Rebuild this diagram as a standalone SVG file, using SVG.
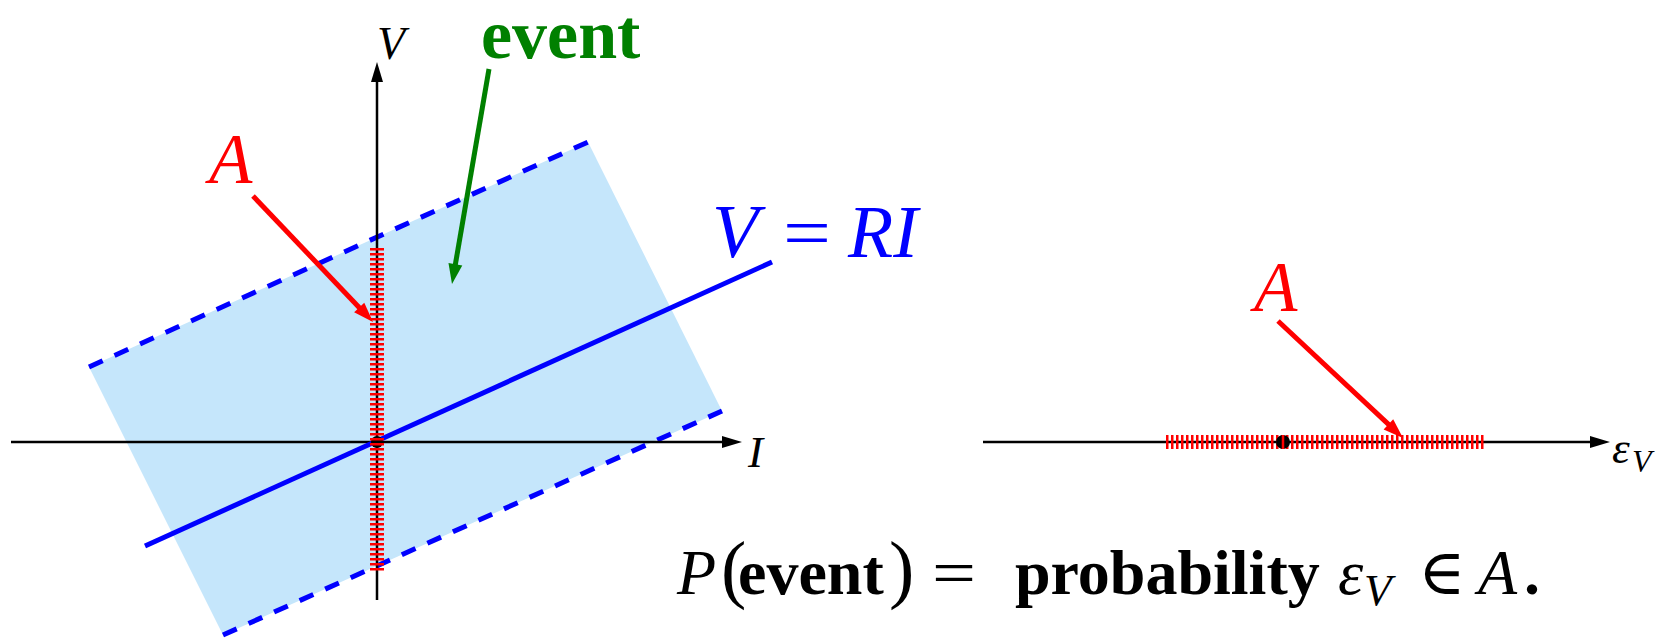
<svg xmlns="http://www.w3.org/2000/svg" width="1657" height="642" viewBox="0 0 1657 642">
<defs>
<marker id="ahK" markerUnits="userSpaceOnUse" markerWidth="24" markerHeight="16" refX="2" refY="6" orient="auto" overflow="visible"><path d="M0,0 L20,6 L0,12 Z" fill="#000"/></marker>
<marker id="ahR" markerUnits="userSpaceOnUse" markerWidth="24" markerHeight="18" refX="2" refY="7" orient="auto" overflow="visible"><path d="M0,0 L20,7 L0,14 Z" fill="#f00"/></marker>
<marker id="ahG" markerUnits="userSpaceOnUse" markerWidth="24" markerHeight="18" refX="2" refY="7" orient="auto" overflow="visible"><path d="M0,0 L20,7 L0,14 Z" fill="#008000"/></marker>
</defs>
<style>
.ax{stroke:#000;stroke-width:2.5;fill:none}
.dash{stroke:#00f;stroke-width:5;stroke-dasharray:15 13;fill:none}
.hatch{stroke:#f00;stroke-width:14;stroke-dasharray:2.5 2.5;fill:none}
.t{font-family:"Liberation Serif","DejaVu Serif",serif}
.it{font-style:italic}
.b{font-weight:bold}
</style>
<g id="region">
<polygon points="89,367 588,142 722,411 223,635" fill="#c5e6fb"/>
<line class="dash" x1="89" y1="367" x2="588" y2="142"/>
<line class="dash" x1="223" y1="635" x2="722" y2="411"/>
</g>
<g id="connectors">
<line class="ax" x1="11" y1="442" x2="724" y2="442" marker-end="url(#ahK)"/>
<line class="ax" x1="377" y1="600" x2="377" y2="80" marker-end="url(#ahK)"/>
<line class="ax" x1="983" y1="442" x2="1592" y2="442" marker-end="url(#ahK)"/>
<line x1="489" y1="69" x2="455.05" y2="266.26" stroke="#008000" stroke-width="5" marker-end="url(#ahG)"/>
<line x1="253" y1="196" x2="360.59" y2="308.97" stroke="#f00" stroke-width="5" marker-end="url(#ahR)"/>
<line x1="1278" y1="321" x2="1389.86" y2="425.7" stroke="#f00" stroke-width="5" marker-end="url(#ahR)"/>
</g>
<g id="line-VRI">
<line x1="145" y1="546" x2="772" y2="262" stroke="#00f" stroke-width="5"/>
<text class="t it" x="712" y="257" font-size="76" fill="#00f">V</text>
<text class="t" x="783" y="257" font-size="72" fill="#00f" textLength="48" lengthAdjust="spacingAndGlyphs">=</text>
<text class="t it" x="848" y="257" font-size="74" fill="#00f">RI</text>
</g>
<g id="set-A-left">
<circle cx="377" cy="442" r="6" fill="#000"/>
<line class="hatch" x1="377" y1="248" x2="377" y2="571"/>
<text class="t it" x="209" y="183" font-size="71" fill="#f00">A</text>
</g>
<g id="set-A-right">
<line class="hatch" x1="1166" y1="442" x2="1485" y2="442"/>
<circle cx="1283" cy="442" r="7" fill="#000"/>
<line x1="1283" y1="435" x2="1283" y2="449" stroke="#f00" stroke-width="2.5"/>
<text class="t it" x="1254" y="311" font-size="71" fill="#f00">A</text>
</g>
<g id="labels">
<text class="t it" x="377" y="59" font-size="46">V</text>
<text class="t it" x="748" y="467" font-size="45">I</text>
<text class="t b" x="481" y="58" font-size="70" fill="#008000">event</text>
<text class="t it" x="1612" y="463" font-size="45">ε</text>
<text class="t it" x="1632" y="472" font-size="32">V</text>
</g>
<g id="formula">
<text class="t it" x="677" y="594" font-size="64">P</text>
<text class="t" x="721" y="594" font-size="76">(</text>
<text class="t b" x="738" y="594" font-size="64">event</text>
<text class="t" x="889" y="594" font-size="76">)</text>
<text class="t" x="932" y="594" font-size="64" textLength="44" lengthAdjust="spacingAndGlyphs">=</text>
<text class="t b" x="1015" y="594" font-size="64">probability</text>
<text class="t it" x="1338" y="594" font-size="64">ε</text>
<text class="t it" x="1364" y="605" font-size="45">V</text>
<text class="t" x="1418" y="594" font-size="64">∈</text>
<text class="t it" x="1478" y="594" font-size="64">A</text>
<text class="t b" x="1524" y="594" font-size="64">.</text>
</g>
</svg>
